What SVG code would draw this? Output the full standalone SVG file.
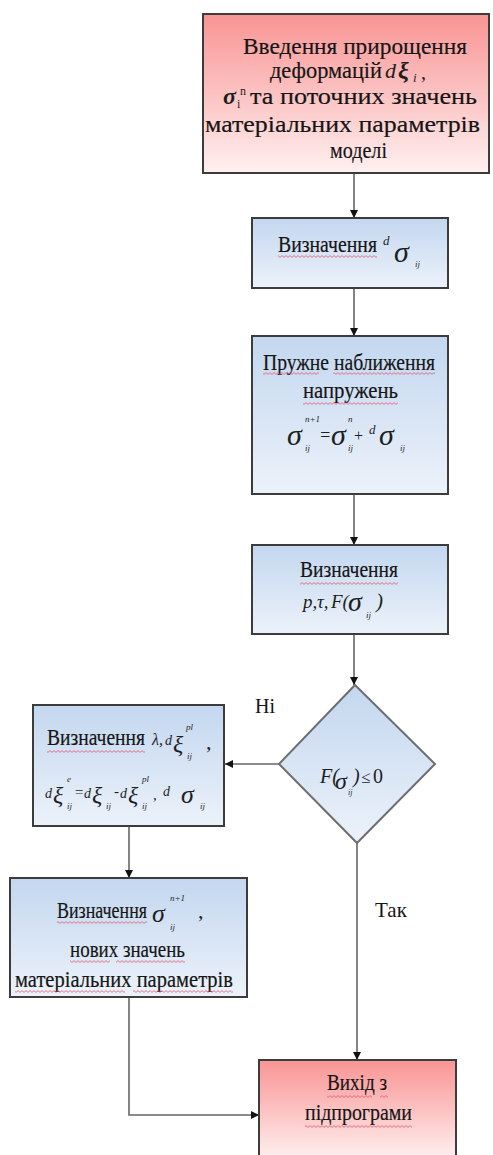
<svg xmlns="http://www.w3.org/2000/svg" width="493" height="1155" viewBox="0 0 493 1155">
<style>
.box{stroke:#3c3c3c;stroke-width:2}
.dia{stroke:#6e6e6e;stroke-width:2}
.t{font-family:"Liberation Serif","DejaVu Serif",serif;font-size:23px;fill:#151515;stroke:#151515;stroke-width:0.2}
.tt{font-size:24px}
.lb{font-family:"Liberation Serif","DejaVu Serif",serif;font-size:20px;fill:#151515}
.m{font-family:"Liberation Serif","DejaVu Serif",serif;font-style:italic;fill:#1e1e1e}
.b{font-weight:bold}
.c{fill:none;stroke:#666;stroke-width:1.6}
.wv{fill:url(#wave)}
</style>
<defs>
<linearGradient id="red" x1="0" y1="0" x2="0" y2="1">
<stop offset="0" stop-color="#f99494"/>
<stop offset="1" stop-color="#fff0f0"/>
</linearGradient>
<linearGradient id="blue" x1="0" y1="0" x2="0" y2="1">
<stop offset="0" stop-color="#c3d7ef"/>
<stop offset="1" stop-color="#ecf2fa"/>
</linearGradient>
<pattern id="wave" patternUnits="userSpaceOnUse" x="0" y="0" width="4" height="3">
<polyline points="0,2.4 2,0.6 4,2.4" fill="none" stroke="#e0566a" stroke-width="0.8"/>
</pattern>
<marker id="arr" markerUnits="userSpaceOnUse" markerWidth="8" markerHeight="8" refX="8" refY="4" orient="auto">
<path d="M0,0 L8,4 L0,8 z" fill="#111"/>
</marker>
</defs>

<g id="connectors">
<path class="c" d="M354 173 V218" marker-end="url(#arr)"/>
<path class="c" d="M354 288 V336" marker-end="url(#arr)"/>
<path class="c" d="M354 494 V545" marker-end="url(#arr)"/>
<path class="c" d="M354 634 V685" marker-end="url(#arr)"/>
<path class="c" d="M279 764 H225" marker-end="url(#arr)"/>
<path class="c" d="M129 826 V878" marker-end="url(#arr)"/>
<path class="c" d="M357 843 V1060" marker-end="url(#arr)"/>
<path class="c" d="M129 997 V1115 H259" marker-end="url(#arr)"/>
</g>

<g id="start">
<rect class="box" x="203" y="14" width="286" height="159" fill="url(#red)"/>
<text class="t tt" x="243" y="54" textLength="224" lengthAdjust="spacingAndGlyphs">Введення прирощення</text>
<text class="t tt" x="270" y="78" textLength="112" lengthAdjust="spacingAndGlyphs">деформацій</text>
<text class="m" x="385" y="78" font-size="22">d<tspan class="b" x="398" font-size="24">ξ</tspan><tspan x="413" y="82" font-size="13">i</tspan><tspan x="421" y="79" font-size="20" font-style="normal">,</tspan></text>
<text class="m" x="223" y="104" font-size="24"><tspan class="b">σ</tspan><tspan x="237" y="108" font-size="12" font-style="normal">i</tspan><tspan x="240" y="95" font-size="12" font-style="normal">n</tspan></text>
<text class="t tt" x="250" y="104" textLength="227" lengthAdjust="spacingAndGlyphs">та поточних значень</text>
<text class="t tt" x="205" y="132" textLength="275" lengthAdjust="spacingAndGlyphs">матеріальних параметрів</text>
<text class="t tt" x="330" y="158" textLength="57" lengthAdjust="spacingAndGlyphs">моделі</text>
</g>

<g id="d-sigma">
<rect class="box" x="252" y="218" width="196" height="70" fill="url(#blue)"/>
<text class="t" x="278" y="252" textLength="99" lengthAdjust="spacingAndGlyphs">Визначення</text>
<rect class="wv" x="278" y="255" width="99" height="3"/>
<text class="m" x="383" y="245" font-size="13">d<tspan x="394" y="262" font-size="30">σ</tspan><tspan x="415" y="267" font-size="9">ij</tspan></text>
</g>

<g id="elastic">
<rect class="box" x="252" y="336" width="196" height="158" fill="url(#blue)"/>
<text class="t" x="263" y="370" textLength="172" lengthAdjust="spacingAndGlyphs">Пружне наближення</text>
<rect class="wv" x="263" y="372" width="56" height="3"/>
<rect class="wv" x="333" y="372" width="102" height="3"/>
<text class="t" x="303" y="398" textLength="95" lengthAdjust="spacingAndGlyphs">напружень</text>
<rect class="wv" x="303" y="402" width="95" height="3"/>
<text class="m" x="287" y="445" font-size="30">σ<tspan x="305" y="422" font-size="9">n+1</tspan><tspan x="305" y="451" font-size="9">ij</tspan><tspan x="319" y="441" font-size="18">=</tspan><tspan x="331" y="445">σ</tspan><tspan x="348" y="422" font-size="9">n</tspan><tspan x="348" y="451" font-size="9">ij</tspan><tspan x="353" y="441" font-size="16">+</tspan><tspan x="369" y="434" font-size="13">d</tspan><tspan x="379" y="445">σ</tspan><tspan x="400" y="451" font-size="9">ij</tspan></text>
</g>

<g id="p-tau-F">
<rect class="box" x="252" y="545" width="196" height="89" fill="url(#blue)"/>
<text class="t" x="300" y="577" textLength="98" lengthAdjust="spacingAndGlyphs">Визначення</text>
<rect class="wv" x="300" y="582" width="98" height="3"/>
<text class="m" x="303" y="608" font-size="19">p,<tspan x="317">τ,</tspan><tspan x="331">F(</tspan><tspan x="348" y="611" font-size="28">σ</tspan><tspan x="366" y="618" font-size="9">ij</tspan><tspan x="376" y="608" font-size="21">)</tspan></text>
</g>

<g id="check">
<polygon class="dia" points="355,685 435,764 357,843 279,764" fill="url(#blue)"/>
<text class="m" x="320" y="783" font-size="20">F(<tspan x="335" y="789" font-size="24">σ</tspan><tspan x="348" y="795" font-size="8">ij</tspan><tspan x="353" y="783">)</tspan><tspan x="361" font-size="17">≤</tspan><tspan x="373" font-style="normal">0</tspan></text>
</g>

<text class="lb" x="255" y="713">Ні</text>
<text class="lb" x="375" y="917" style="font-size:21px">Так</text>

<g id="plastic">
<rect class="box" x="33" y="705" width="191" height="121" fill="url(#blue)"/>
<text class="t" x="47" y="745" textLength="98" lengthAdjust="spacingAndGlyphs">Визначення</text>
<rect class="wv" x="47" y="750" width="98" height="3"/>
<text class="m" x="152" y="745" font-size="16">λ,<tspan x="165" font-size="14">d</tspan><tspan x="173" y="752" font-size="24">ξ</tspan><tspan x="186" y="730" font-size="9">pl</tspan><tspan x="187" y="759" font-size="9">ij</tspan><tspan x="206" y="749" font-size="22" font-style="normal">,</tspan></text>
<text class="m" x="45" y="798" font-size="14">d<tspan x="53" y="803" font-size="24">ξ</tspan><tspan x="67" y="782" font-size="9">e</tspan><tspan x="67" y="809" font-size="9">ij</tspan><tspan x="74" y="797" font-size="15">=</tspan><tspan x="84" y="798">d</tspan><tspan x="92" y="803" font-size="24">ξ</tspan><tspan x="106" y="809" font-size="9">ij</tspan><tspan x="114" y="796" font-size="15">-</tspan><tspan x="120" y="798">d</tspan><tspan x="128" y="803" font-size="24">ξ</tspan><tspan x="142" y="782" font-size="9">pl</tspan><tspan x="142" y="809" font-size="9">ij</tspan><tspan x="153" y="800" font-size="15">,</tspan><tspan x="163" y="796">d</tspan><tspan x="181" y="803" font-size="26">σ</tspan><tspan x="200" y="809" font-size="9">ij</tspan></text>
</g>

<g id="update">
<rect class="box" x="10" y="878" width="237" height="119" fill="url(#blue)"/>
<text class="t" x="57" y="918" textLength="90" lengthAdjust="spacingAndGlyphs">Визначення</text>
<rect class="wv" x="57" y="921" width="90" height="3"/>
<text class="m" x="152" y="922" font-size="26">σ<tspan x="170" y="901" font-size="9">n+1</tspan><tspan x="170" y="930" font-size="9">ij</tspan><tspan x="198" y="918" font-size="22" font-style="normal">,</tspan></text>
<text class="t" x="70" y="957" textLength="115" lengthAdjust="spacingAndGlyphs">нових значень</text>
<rect class="wv" x="70" y="960" width="40" height="3"/>
<rect class="wv" x="116" y="960" width="69" height="3"/>
<text class="t" x="15" y="987" textLength="218" lengthAdjust="spacingAndGlyphs">матеріальних параметрів</text>
<rect class="wv" x="15" y="990" width="110" height="3"/>
<rect class="wv" x="133" y="990" width="100" height="3"/>
</g>

<g id="exit">
<rect class="box" x="259" y="1060" width="197" height="100" fill="url(#red)"/>
<text class="t" x="327" y="1090" textLength="60" lengthAdjust="spacingAndGlyphs">Вихід з</text>
<rect class="wv" x="327" y="1095" width="45" height="3"/>
<rect class="wv" x="380" y="1095" width="8" height="3"/>
<text class="t" x="305" y="1120" textLength="107" lengthAdjust="spacingAndGlyphs">підпрограми</text>
<rect class="wv" x="305" y="1125" width="107" height="3"/>
</g>
</svg>
